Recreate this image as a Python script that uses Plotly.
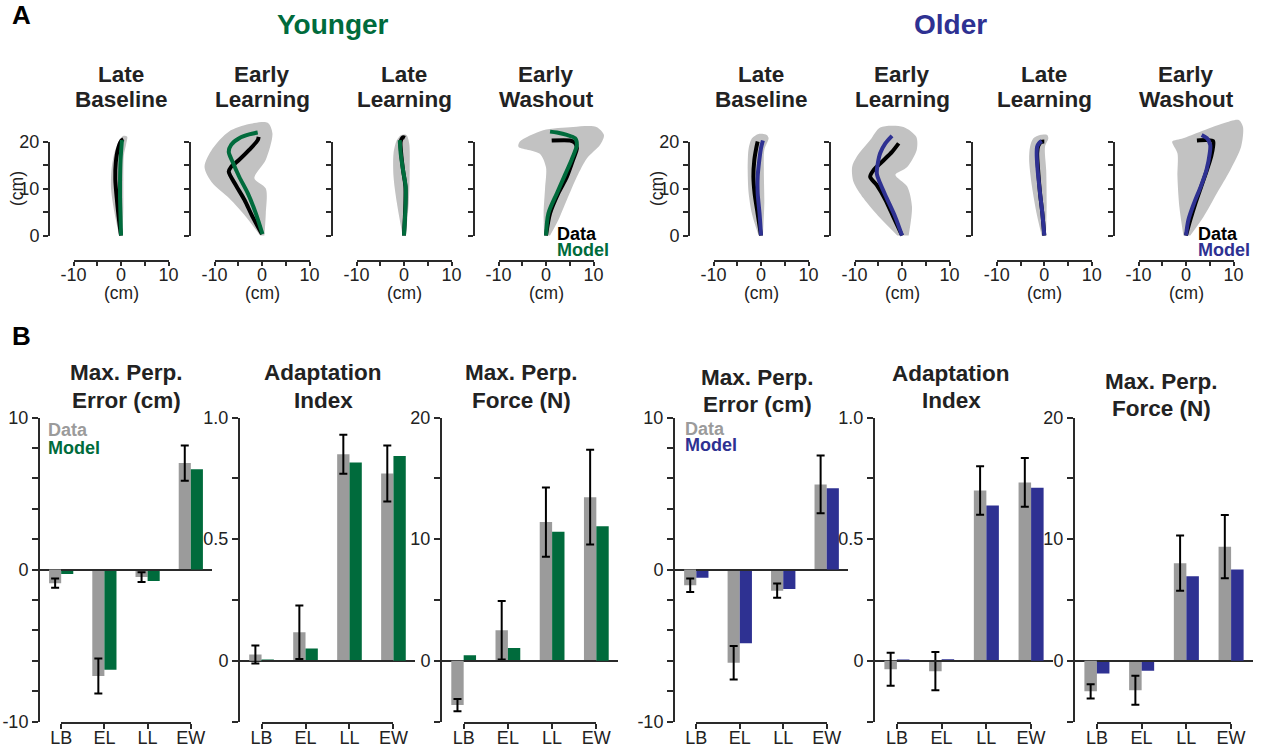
import plotly.graph_objects as go

W, H = 1261, 750
GREEN = '#006b3c'
BLUE = '#2e3192'
GRAY_BAR = '#9b9b9b'
GRAY_FILL = '#c2c2c2'
AX = '#2a2a2a'
FONT = 'Liberation Sans, Arial, Helvetica, sans-serif'

# ---------------- Panel A: trajectories (cm), (x, y) pairs ----------------
PHASE_L1 = ['Late', 'Early', 'Late', 'Early']
PHASE_L2 = ['Baseline', 'Learning', 'Learning', 'Washout']

YLB_DATA = [(0, 0), (-0.5, 4), (-0.9, 8), (-1.2, 12), (-1.1, 15.5), (-0.6, 18.5), (0.1, 20.2), (0.5, 20.5)]
YLB_MODEL = [(0, 0), (-0.1, 4), (-0.2, 8), (-0.2, 12), (-0.1, 16), (0.2, 20.3)]
YLB_BAND = [(-0.4, 0), (-1.4, 5), (-2.1, 10), (-2.0, 14), (-1.4, 17.5), (-0.4, 20.2), (0.5, 21.2),
            (1.3, 21.0), (1.1, 19.5), (0.6, 17), (0.5, 12), (0.5, 6), (0.3, 0)]

YEL_DATA = [(0, 0.3), (-2.0, 4.0), (-3.7, 7.6), (-5.5, 10.7), (-7.0, 13.6), (-6.5, 14.6), (-4.8, 16.1),
            (-2.7, 18.2), (-0.9, 20.3), (-0.7, 21.0)]
YEL_MODEL = [(0.1, 0.3), (-1.3, 4.7), (-3.0, 9.0), (-4.8, 12.5), (-6.2, 15.7), (-7.0, 17.8), (-6.5, 19.3),
             (-4.8, 20.7), (-2.7, 21.5), (-0.9, 21.9)]
YEL_BAND = [(-0.4, 0), (-3.4, 4.0), (-6.9, 7.9), (-10.4, 11.1), (-12.1, 14.6), (-10.4, 18.5), (-7.0, 22.1),
            (-2.7, 23.7), (1.2, 24.0), (2.2, 21.7), (0.8, 16.1), (-1.6, 12.2), (0.8, 10.0), (0.8, 4.7),
            (0.5, 0)]

YLL_DATA = [(0, 0), (0.3, 7), (0.3, 10.4), (-0.2, 13.9), (-0.6, 17.5), (-0.7, 20), (-0.2, 20.9), (0.2, 20.8)]
YLL_MODEL = [(0, 0), (0.35, 6.9), (0.35, 10.4), (-0.2, 13.9), (-0.7, 17.5), (-0.9, 20.3)]
YLL_BAND = [(-0.3, 0), (-1.5, 6.9), (-2.2, 12.5), (-2.2, 17.5), (-1.5, 20.3), (-0.6, 21.4), (0.5, 21.4),
            (1.1, 19.6), (1.2, 13.9), (1.0, 6.9), (0.35, 0)]

YEW_DATA = [(0, 0), (0.85, 4.7), (2.6, 9.0), (4.4, 12.5), (5.7, 16.1), (6.5, 18.6), (6.1, 19.7),
            (5.1, 20.2), (1.2, 20.2)]
YEW_MODEL = [(0, 0), (0.5, 4.7), (2.3, 9.0), (4.0, 12.9), (5.5, 16.4), (6.5, 19.3), (6.1, 20.7),
             (4.4, 21.4), (2.3, 21.9), (0.85, 22.1)]
YEW_BAND = [(-0.4, 0), (-0.5, 5), (-0.2, 10), (0.0, 14.5), (-1.3, 17.4), (-5.8, 18.9), (-5.5, 20),
            (-0.6, 22.4), (5.7, 23.1), (10.6, 23.1), (12.2, 21.4), (11.4, 19.3), (8.6, 16.4),
            (6.5, 12.5), (4.4, 7.6), (2.6, 3.3), (0.85, 0)]

OLB_DATA = [(0, 0), (-0.7, 4.6), (-1.35, 9.0), (-1.6, 12.5), (-1.4, 16.1), (-1.0, 18.6), (-0.7, 20)]
OLB_MODEL = [(0, 0), (-0.3, 4.6), (-0.7, 9.0), (-0.7, 12.5), (-0.35, 16.1), (0, 18.6), (0.4, 20.2)]
OLB_BAND = [(-0.5, 0), (-1.9, 4.6), (-2.6, 9.0), (-2.8, 13.9), (-2.6, 18.5), (-1.9, 20.7), (-0.5, 21.6),
            (1.2, 21.4), (1.6, 20.7), (0.7, 18.2), (0.6, 13.9), (0.7, 6.9), (0.4, 0)]

OEL_DATA = [(0, 0), (-1.8, 3.9), (-3.5, 7.6), (-5.3, 10.7), (-6.7, 12.5), (-6.0, 13.9), (-4.2, 15.7),
            (-2.1, 17.8), (-0.7, 19.6)]
OEL_MODEL = [(0, 0), (-1.4, 3.9), (-3.2, 7.9), (-4.6, 11.1), (-5.3, 13.2), (-5.1, 15.3), (-4.6, 17.5),
             (-3.5, 19.6), (-2.1, 21.2)]
OEL_BAND = [(-1.0, 0), (-4.6, 3.7), (-8.1, 7.9), (-10.2, 11.4), (-10.5, 14.6), (-9.5, 16.8), (-6.7, 20.3),
            (-4.6, 23.0), (0.3, 23.1), (3.0, 21.0), (3.1, 18.2), (1.1, 14.6), (-1.4, 12.9), (1.1, 10.4),
            (2.1, 6.1), (1.4, 0)]

OLL_DATA = [(0, 0), (-0.4, 4.6), (-0.9, 9), (-1.3, 13.9), (-1.5, 17.5), (-1.3, 19), (-0.7, 19.9), (0, 20)]
OLL_MODEL = [(0, 0), (-0.4, 4.6), (-0.9, 9.0), (-1.4, 13.9), (-1.6, 17.5), (-1.5, 18.9), (-1.05, 19.7),
             (-0.55, 20.1)]
OLL_BAND = [(-0.55, 0), (-1.6, 4.6), (-2.6, 10.4), (-3.2, 16.1), (-3.0, 18.9), (-2.3, 20.7), (-0.9, 21.4),
            (0.6, 21.4), (0.85, 20.7), (0.15, 18.9), (0.4, 13.9), (0.5, 6.9), (0.35, 0)]

OEW_DATA = [(0, 0), (0.9, 3.3), (2.0, 6.9), (3.2, 10.4), (4.4, 13.9), (5.3, 16.8), (5.7, 18.9),
            (5.7, 20.1), (4.4, 20.3), (2.3, 20.2)]
OEW_MODEL = [(0, 0), (0.5, 3.3), (1.7, 6.9), (3.1, 10.4), (4.3, 13.9), (5.0, 17.5), (5.1, 19.3),
             (4.4, 20.7), (3.3, 21.4)]
OEW_BAND = [(-0.55, 0), (-1.4, 6.1), (-1.8, 12.5), (-1.8, 17.5), (-2.7, 19.3), (-2.9, 20.0), (-0.6, 20.7),
            (3.0, 22.1), (7.9, 23.9), (11.1, 24.6), (12.0, 23.1), (11.6, 18.9), (9.3, 13.9), (6.5, 9.0),
            (3.7, 4.0), (0.9, 0)]

TRAJ = [
    (YLB_DATA, YLB_MODEL, YLB_BAND), (YEL_DATA, YEL_MODEL, YEL_BAND),
    (YLL_DATA, YLL_MODEL, YLL_BAND), (YEW_DATA, YEW_MODEL, YEW_BAND),
    (OLB_DATA, OLB_MODEL, OLB_BAND), (OEL_DATA, OEL_MODEL, OEL_BAND),
    (OLL_DATA, OLL_MODEL, OLL_BAND), (OEW_DATA, OEW_MODEL, OEW_BAND),
]

# ---------------- Panel B: bar data ----------------
CATEGORIES = ['LB', 'EL', 'LL', 'EW']

YOUNG_ERR_DATA = [-0.9, -7.0, -0.5, 7.0]
YOUNG_ERR_SEM = [0.3, 1.15, 0.32, 1.16]
YOUNG_ERR_MODEL = [-0.3, -6.6, -0.75, 6.6]

YOUNG_AI_DATA = [0.026, 0.117, 0.849, 0.77]
YOUNG_AI_SEM = [0.037, 0.11, 0.08, 0.115]
YOUNG_AI_MODEL = [0.004, 0.05, 0.815, 0.842]

YOUNG_F_DATA = [-3.65, 2.5, 11.4, 13.45]
YOUNG_F_SEM = [0.5, 2.4, 2.85, 3.9]
YOUNG_F_MODEL = [0.44, 1.05, 10.6, 11.05]

OLDER_ERR_DATA = [-1.04, -6.14, -1.39, 5.6]
OLDER_ERR_SEM = [0.44, 1.1, 0.47, 1.9]
OLDER_ERR_MODEL = [-0.55, -4.86, -1.28, 5.34]

OLDER_AI_DATA = [-0.035, -0.043, 0.70, 0.733]
OLDER_AI_SEM = [0.068, 0.079, 0.10, 0.10]
OLDER_AI_MODEL = [0.002, 0.006, 0.638, 0.711]

OLDER_F_DATA = [-2.52, -2.43, 8.02, 9.38]
OLDER_F_SEM = [0.58, 1.2, 2.27, 2.6]
OLDER_F_MODEL = [-1.05, -0.83, 6.94, 7.49]

ERR_TICKS = [-10, -8, -6, -4, -2, 0, 2, 4, 6, 8, 10]
ERR_TICKTEXT = ['-10', '', '', '', '', '0', '', '', '', '', '10']
AI_TICKS = [-0.25, 0, 0.25, 0.5, 0.75, 1.0]
AI_TICKTEXT = ['', '0', '', '0.5', '', '1.0']
F_TICKS = [-5, 0, 5, 10, 15, 20]
F_TICKTEXT = ['', '0', '', '10', '', '20']

BARS = [
    (YOUNG_ERR_DATA, YOUNG_ERR_SEM, YOUNG_ERR_MODEL, [-10, 10], ERR_TICKS, ERR_TICKTEXT, GREEN),
    (YOUNG_AI_DATA, YOUNG_AI_SEM, YOUNG_AI_MODEL, [-0.25, 1.0], AI_TICKS, AI_TICKTEXT, GREEN),
    (YOUNG_F_DATA, YOUNG_F_SEM, YOUNG_F_MODEL, [-5, 20], F_TICKS, F_TICKTEXT, GREEN),
    (OLDER_ERR_DATA, OLDER_ERR_SEM, OLDER_ERR_MODEL, [-10, 10], ERR_TICKS, ERR_TICKTEXT, BLUE),
    (OLDER_AI_DATA, OLDER_AI_SEM, OLDER_AI_MODEL, [-0.25, 1.0], AI_TICKS, AI_TICKTEXT, BLUE),
    (OLDER_F_DATA, OLDER_F_SEM, OLDER_F_MODEL, [-5, 20], F_TICKS, F_TICKTEXT, BLUE),
]
BAR_TITLE_L1 = ['Max. Perp.', 'Adaptation', 'Max. Perp.', 'Max. Perp.', 'Adaptation', 'Max. Perp.']
BAR_TITLE_L2 = ['Error (cm)', 'Index', 'Force (N)', 'Error (cm)', 'Index', 'Force (N)']

# ---------------- geometry (pixels) ----------------
SX, SY = 4.75, 4.7
TRAJ_X0 = [121, 262, 404, 546, 761, 902, 1044.3, 1186]
TRAJ_Y0 = 235.5
BAR_L = [40, 240, 442, 675, 875, 1075]
BAR_R = [212, 415, 618, 848, 1053, 1253]
BAR_TOP, BAR_BOT = 417.5, 721.5
BAR_XR = [-0.49, 3.49]
BAR_TITLE_X = [126, 323, 521, 757, 951, 1161]
BAR_TITLE_Y = [372.5, 372.5, 372.5, 377, 373, 381]


def fx(px):
    return px / W


def fy(py):
    return 1 - py / H


def an(i, a):
    return f'{a}axis' if i == 1 else f'{a}axis{i}'


def rf(i, a):
    return a if i == 1 else f'{a}{i}'


fig = go.Figure()
layout = dict(
    template='none',
    width=W, height=H, autosize=False,
    margin=dict(l=0, r=0, t=0, b=0, pad=0, autoexpand=False),
    paper_bgcolor='white', plot_bgcolor='rgba(0,0,0,0)', showlegend=False,
    font=dict(family=FONT, size=18, color='#222222'),
)
annotations = []


def add_text(x, y, text, size, color='#222222', bold=True, xanchor='center', angle=0):
    annotations.append(dict(
        x=fx(x), y=fy(y), xref='paper', yref='paper', text=f'<b>{text}</b>' if bold else text,
        showarrow=False, xanchor=xanchor, yanchor='middle', textangle=angle,
        borderpad=0, borderwidth=0,
        font=dict(family=FONT, size=size, color=color)))


spine_common = dict(showline=True, linecolor=AX, linewidth=2, ticks='outside', tickwidth=2,
                    tickcolor=AX, showgrid=False, zeroline=False, fixedrange=True, tickmode='array',
                    automargin=False, tickfont=dict(family=FONT, size=18, color='#222222'))

# ---------------- Panel A ----------------
for k, (dat, mod, band) in enumerate(TRAJ):
    i = k + 1
    s = k + 9
    ox = TRAJ_X0[k]
    col = GREEN if k < 4 else BLUE
    layout[an(i, 'x')] = dict(domain=[fx(ox - 16 * SX), fx(ox + 13 * SX)], range=[-16, 13],
                              visible=False, anchor=rf(i, 'y'), fixedrange=True, automargin=False)
    layout[an(i, 'y')] = dict(domain=[fy(TRAJ_Y0 + 1 * SY), fy(TRAJ_Y0 - 25 * SY)], range=[-1, 25],
                              visible=False, anchor=rf(i, 'x'), fixedrange=True, automargin=False)
    fig.add_trace(go.Scatter(x=[p[0] for p in band], y=[p[1] for p in band], mode='lines',
                             fill='toself', fillcolor=GRAY_FILL, line=dict(width=0, shape='spline', smoothing=0.8),
                             xaxis=rf(i, 'x'), yaxis=rf(i, 'y'), hoverinfo='skip'))
    fig.add_trace(go.Scatter(x=[p[0] for p in dat], y=[p[1] for p in dat], mode='lines',
                             line=dict(width=4, color='black', shape='spline', smoothing=0.8),
                             xaxis=rf(i, 'x'), yaxis=rf(i, 'y'), hoverinfo='skip'))
    fig.add_trace(go.Scatter(x=[p[0] for p in mod], y=[p[1] for p in mod], mode='lines',
                             line=dict(width=4, color=col, shape='spline', smoothing=0.8),
                             xaxis=rf(i, 'x'), yaxis=rf(i, 'y'), hoverinfo='skip'))
    # offset spines
    layout[an(s, 'x')] = dict(domain=[fx(ox - 10 * SX), fx(ox + 10 * SX)], range=[-10, 10],
                              anchor='free', position=fy(260.5), ticklen=4, ticklabelstandoff=-6,
                              tickvals=[-10, -5, 0, 5, 10], ticktext=['-10', '', '0', '', '10'],
                              **spine_common)
    first = k in (0, 4)
    layout[an(s, 'y')] = dict(domain=[fy(TRAJ_Y0), fy(TRAJ_Y0 - 20 * SY)], range=[0, 20],
                              anchor='free', position=fx(ox - 72), side='left', ticklen=5,
                              tickvals=[0, 5, 10, 15, 20],
                              ticktext=['0', '', '10', '', '20'] if first else [''] * 5,
                              **spine_common)
    fig.add_trace(go.Scatter(x=[None], y=[None], mode='markers', xaxis=rf(s, 'x'), yaxis=rf(s, 'y'),
                             hoverinfo='skip'))
    # titles
    add_text(ox, 74, PHASE_L1[k % 4], 22.5)
    add_text(ox, 100, PHASE_L2[k % 4], 22.5)
    add_text(ox, 293, '(cm)', 17.5, bold=False)
    if first:
        add_text(ox - 104, 189, '(cm)', 17.5, bold=False, angle=-90)

# ---------------- Panel B ----------------
for j, (dat, sem, mod, yr, tv, tt, col) in enumerate(BARS):
    i = 17 + j
    s = 23 + j
    L, R = BAR_L[j], BAR_R[j]
    u = (R - L) / (BAR_XR[1] - BAR_XR[0])
    layout[an(i, 'x')] = dict(domain=[fx(L), fx(R)], range=BAR_XR, visible=False,
                              anchor=rf(i, 'y'), fixedrange=True, automargin=False)
    layout[an(i, 'y')] = dict(domain=[fy(BAR_BOT), fy(BAR_TOP)], range=yr, anchor=rf(i, 'x'),
                              showline=True, linecolor=AX, linewidth=2, ticks='outside', ticklen=6,
                              tickwidth=2, tickcolor=AX, tickmode='array', tickvals=tv, ticktext=tt,
                              showgrid=False, zeroline=True, zerolinecolor=AX, zerolinewidth=2,
                              fixedrange=True, automargin=False,
                              tickfont=dict(family=FONT, size=18, color='#222222'))
    xs = [0, 1, 2, 3]
    fig.add_trace(go.Bar(x=xs, y=dat, width=0.28, offset=-0.28, marker=dict(color=GRAY_BAR, line=dict(width=0)),
                         error_y=dict(type='data', array=sem, visible=True, color='black', thickness=2, width=4),
                         xaxis=rf(i, 'x'), yaxis=rf(i, 'y'), hoverinfo='skip'))
    fig.add_trace(go.Bar(x=xs, y=mod, width=0.28, offset=0.0, marker=dict(color=col, line=dict(width=0)),
                         xaxis=rf(i, 'x'), yaxis=rf(i, 'y'), hoverinfo='skip'))
    x0 = L + (0 - BAR_XR[0]) * u
    x3 = L + (3 - BAR_XR[0]) * u
    layout[an(s, 'x')] = dict(domain=[fx(x0), fx(x3)], range=[0, 3], anchor=rf(i, 'y'), side='bottom',
                              ticklen=5, ticklabelstandoff=-6, tickvals=xs, ticktext=CATEGORIES,
                              **spine_common)
    fig.add_trace(go.Scatter(x=[None], y=[None], mode='markers', xaxis=rf(s, 'x'), yaxis=rf(i, 'y'),
                             hoverinfo='skip'))
    add_text(BAR_TITLE_X[j], BAR_TITLE_Y[j], BAR_TITLE_L1[j], 22.5)
    add_text(BAR_TITLE_X[j], BAR_TITLE_Y[j] + 27.5, BAR_TITLE_L2[j], 22.5)

# legends
add_text(48, 430, 'Data', 18, color=GRAY_BAR, xanchor='left')
add_text(48, 447.5, 'Model', 18, color=GREEN, xanchor='left')
add_text(685, 429, 'Data', 18, color=GRAY_BAR, xanchor='left')
add_text(685, 445, 'Model', 18, color=BLUE, xanchor='left')
add_text(557, 233.5, 'Data', 18, color='black', xanchor='left')
add_text(557, 249.5, 'Model', 18, color=GREEN, xanchor='left')
add_text(1198, 234, 'Data', 18, color='black', xanchor='left')
add_text(1198, 249.5, 'Model', 18, color=BLUE, xanchor='left')

# group and panel labels
add_text(333, 25, 'Younger', 28, color=GREEN)
add_text(950, 25, 'Older', 28, color=BLUE)
add_text(12, 15.5, 'A', 26, color='black', xanchor='left')
add_text(12, 336, 'B', 26, color='black', xanchor='left')

layout['annotations'] = annotations
fig.update_layout(**layout)
fig.write_html('out.html')
